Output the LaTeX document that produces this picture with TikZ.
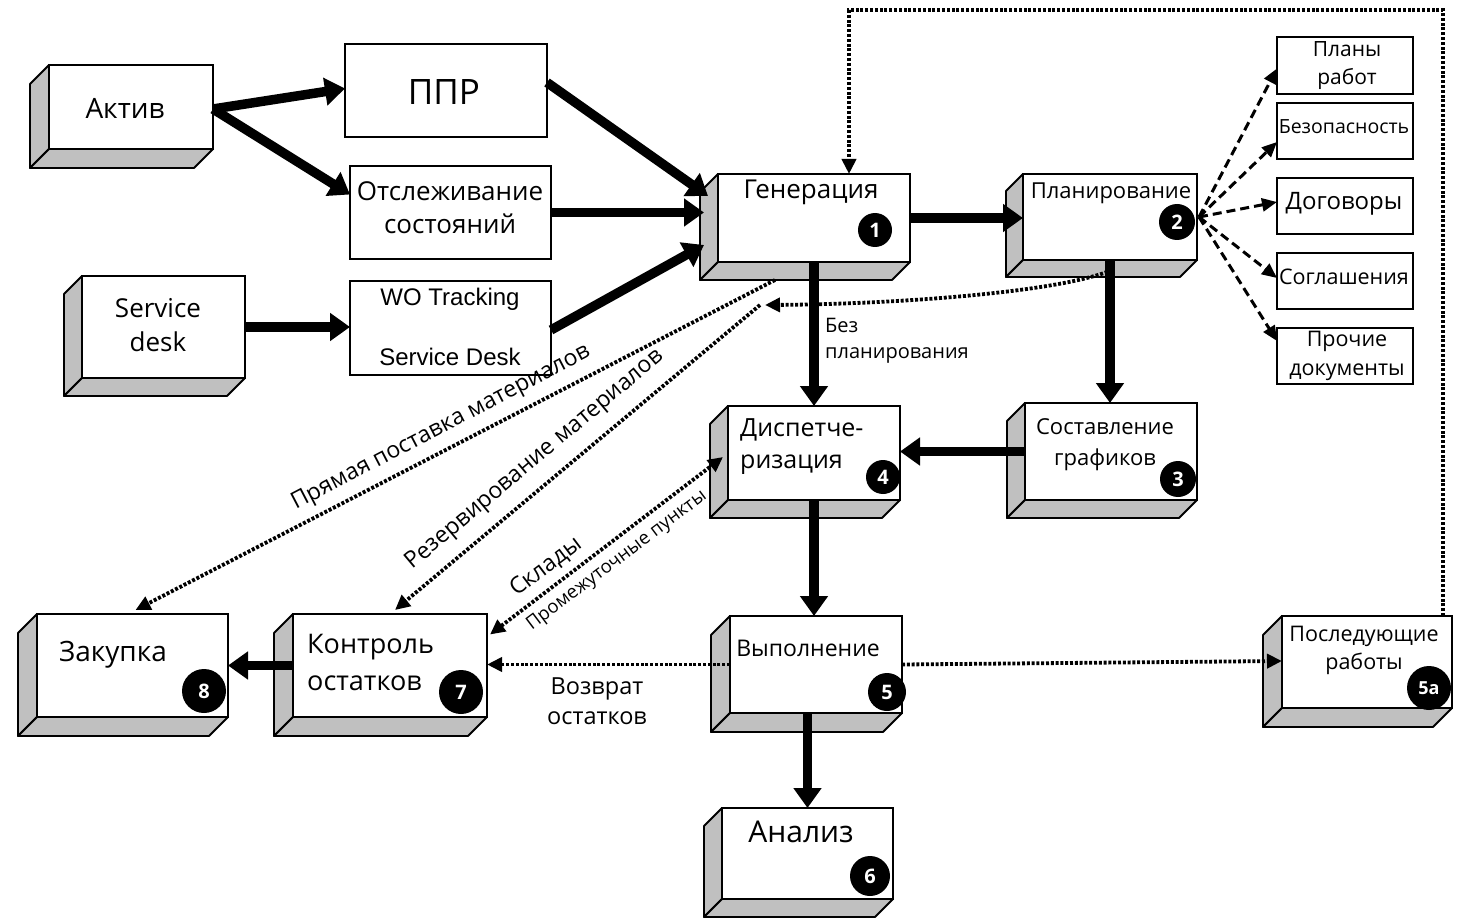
\documentclass[tikz,border=0pt]{standalone}
\usepackage{fontspec}
\setmainfont{Open Sans}
\newfontfamily\arialf{Liberation Sans}
\usetikzlibrary{arrows.meta,calc}
\definecolor{sidegray}{HTML}{C0C0C0}

\tikzset{
 front/.style={draw=black, line width=2pt, fill=white, rectangle, inner sep=0pt, outer sep=0pt},
 side/.style={draw=black, line width=1.8pt, fill=sidegray, line join=round},
 doc/.style={draw=black, line width=2pt, fill=white, rectangle, inner sep=0pt, outer sep=0pt},
 txt/.style={inner sep=0pt, align=center, text=black},
 badge/.style={circle, fill=black, text=white, inner sep=0pt, minimum size=#1, font=\fontsize{20}{20}\selectfont\bfseries},
 badge/.default=34pt,
 thickarrow/.style={line width=9.5pt, -{Triangle[length=20pt,width=27pt]}},
 dotarrow/.style={line width=3.8pt, dash pattern=on 3pt off 1.8pt, -{Triangle[length=15pt,width=14pt]}},
 dotboth/.style={line width=3.8pt, dash pattern=on 3pt off 1.8pt, {Triangle[length=15pt,width=14pt]}-{Triangle[length=15pt,width=14pt]}},
 dasharrow/.style={line width=3pt, dash pattern=on 9pt off 5pt, -{Triangle[length=15pt,width=13pt]}},
}
\newcommand\mkbox[6][front]{%
 \node[#1, minimum width={#5-#3}, minimum height={#6-#4}] (#2) at ({(#3+#5)/2},{(#4+#6)/2}) {};}
\newcommand\mkdepth[2]{%
 \filldraw[side] (#1.north west) -- ++(-#2,#2) -- ($(#1.south west)+(-#2,#2)$) -- (#1.south west) -- cycle;
 \filldraw[side] (#1.south west) -- ++(-#2,#2) -- ($(#1.south east)+(-#2,#2)$) -- (#1.south east) -- cycle;}
\newcommand\fs[2]{\fontsize{#1}{#2}\selectfont}

\begin{document}
\begin{tikzpicture}[x=1pt,y=-1pt]
\useasboundingbox (0,0) rectangle (1457,920);

% ---------- boxes ----------
\mkbox{aktiv}{49}{65}{213}{149}\mkdepth{aktiv}{19}
\mkbox[doc]{ppr}{345}{44}{547}{137}
\mkbox[doc]{otsl}{350}{166}{551}{259}
\mkbox{sdesk}{82}{276}{245}{378}\mkdepth{sdesk}{18}
\mkbox[doc]{wo}{350}{281}{551}{375}
\mkbox{gen}{718}{174}{910}{262}\mkdepth{gen}{18}
\mkbox{plan}{1023}{174}{1197}{260}\mkdepth{plan}{17}
\mkbox[doc]{planyr}{1277}{37}{1413}{94}
\mkbox[doc]{bez}{1277}{103}{1413}{159}
\mkbox[doc]{dog}{1277}{178}{1413}{234}
\mkbox[doc]{sogl}{1277}{253}{1413}{309}
\mkbox[doc]{proch}{1277}{328}{1413}{384}
\mkbox{sost}{1025}{403}{1197}{500}\mkdepth{sost}{18}
\mkbox{disp}{728}{406}{900}{500}\mkdepth{disp}{18}
\mkbox{vyp}{730}{616}{902}{713}\mkdepth{vyp}{19}
\mkbox{post}{1282}{616}{1452}{708}\mkdepth{post}{19}
\mkbox{anal}{722}{808}{893}{899}\mkdepth{anal}{18}
\mkbox{zak}{37}{614}{228}{717}\mkdepth{zak}{19}
\mkbox{kontr}{293}{614}{487}{717}\mkdepth{kontr}{19}

% ---------- texts ----------
\node[txt, font=\fs{28}{33}] (t-aktiv) at (125,108) {Актив};
\node[txt, font=\fs{35}{40}] (t-ppr) at (444,92) {ППР};
\node[txt, font=\fs{26}{33}] (t-otsl) at (450,208) {Отслеживание\\состояний};
\node[txt, font=\fs{26}{34}] (t-sdesk) at (158,325) {Service\\desk};
\node[txt, font=\arialf\fs{24}{60}] (t-wo) at (450,327) {WO Tracking\\Service Desk};
\node[txt, font=\fs{26}{30}] (t-gen) at (811,192) {Генерация};
\node[txt, font=\fs{22}{26}] (t-plan) at (1111,193) {Планирование};
\node[txt, font=\fs{21}{28}] (t-planyr) at (1347,66) {Планы\\работ};
\node[txt, font=\fs{19.5}{22}] (t-bez) at (1344,127) {Безопасность};
\node[txt, font=\fs{24}{28}] (t-dog) at (1344,204) {Договоры};
\node[txt, font=\fs{21.5}{26}] (t-sogl) at (1344,277) {Соглашения};
\node[txt, font=\fs{21.5}{29}] (t-proch) at (1347,356) {Прочие\\документы};
\node[txt, font=\fs{22}{31}] (t-sost) at (1105,445) {Составление\\графиков};
\node[txt, font=\fs{25}{32}, align=left, anchor=west] (t-disp) at (740,447) {Диспетче-\\ризация};
\node[txt, font=\fs{23}{27}] (t-vyp) at (808,648) {Выполнение};
\node[txt, font=\fs{21.5}{28}] (t-post) at (1364,650) {Последующие\\работы};
\node[txt, font=\fs{30}{34}] (t-anal) at (801,832) {Анализ};
\node[txt, font=\fs{28}{32}] (t-zak) at (113,655) {Закупка};
\node[txt, font=\fs{27}{37}, align=left, anchor=west] (t-kontr) at (307,662) {Контроль\\остатков};
\node[txt, font=\fs{20}{26}, align=left, anchor=west] (t-bezpl) at (825,341) {Без\\планирования};
\node[txt, font=\fs{23.5}{30}] (t-vozv) at (597,701) {Возврат\\остатков};

% ---------- badges ----------
\node[badge=34pt] (b1) at (875,230) {1};
\node[badge=36pt] (b2) at (1177,222) {2};
\node[badge=36pt] (b3) at (1178,479) {3};
\node[badge=34pt] (b4) at (883,477) {4};
\node[badge=38pt] (b5) at (887,692) {5};
\node[badge=44pt, font=\fs{18}{18}\bfseries] (b5a) at (1429,688) {5a};
\node[badge=40pt] (b6) at (870,876) {6};
\node[badge=44pt] (b7) at (461,692) {7};
\node[badge=44pt] (b8) at (204,691) {8};

% ---------- thick arrows ----------
\draw[thickarrow] ($(aktiv.east)+(0,2)$) -- ($(ppr.west)+(0,-2)$);
\draw[thickarrow] ($(aktiv.east)+(0,2)$) -- ($(otsl.west)+(0,-18)$);
\draw[thickarrow] ($(ppr.east)+(0,-8)$) -- ($(gen.west)+(-10,-22)$);
\draw[thickarrow] (otsl.east) -- ($(otsl.east -| gen.west)+(-14,0)$);
\draw[thickarrow] ($(wo.east)+(0,2)$) -- ($(gen.west)+(-14,27)$);
\draw[thickarrow] (sdesk.east) -- (sdesk.east -| wo.west);
\draw[thickarrow] (gen.east) -- (gen.east -| plan.west);
\draw[thickarrow] (gen.south) -- (gen.south |- disp.north);
\draw[thickarrow] (plan.south) -- (plan.south |- sost.north);
\draw[thickarrow] (sost.west) -- (sost.west -| disp.east);
\draw[thickarrow] (disp.south) -- (disp.south |- vyp.north);
\draw[thickarrow] (anal.north |- vyp.south) -- (anal.north);
\draw[thickarrow] (kontr.west) -- (kontr.west -| zak.east);

% ---------- dotted connectors ----------
\coordinate (c1) at (1443,10);
\coordinate (c2) at (849,10);
\coordinate (rez) at (765,305);
\draw[dotarrow, line width=4pt] (post.north -| c1) -- (c1) -- (c2) -- (c2 |- gen.north);
\draw[dotarrow] (vyp.west) -- (vyp.west -| kontr.east);
\draw[dotarrow] (vyp.east) -- ($(post.west)+(0,-1)$);
\draw[dotarrow] ($(plan.south)+(2,10)$) .. controls (1060,292) and (900,304) .. (rez);
\draw[dotarrow] ($(rez)+(-5,0)$) -- ($(kontr.north)+(5,-4)$);
\draw[dotarrow] ($(gen.south)+(-39,18)$) -- ($(zak.north)+(3,-4)$);
\draw[dotboth] ($(kontr.east)+(3,-31)$) -- ($(disp.west)+(-5,4)$);

% ---------- dashed document arrows ----------
\draw[dasharrow] ($(plan.east)+(2,0)$) -- ($(planyr.west)+(0,3)$);
\draw[dasharrow] ($(plan.east)+(2,0)$) -- ($(bez.west)+(0,11)$);
\draw[dasharrow] ($(plan.east)+(2,0)$) -- ($(dog.west)+(0,-4)$);
\draw[dasharrow] ($(plan.east)+(2,0)$) -- ($(sogl.west)+(0,-3)$);
\draw[dasharrow] ($(plan.east)+(2,0)$) -- ($(proch.west)+(0,-15)$);

% ---------- line labels ----------
\node[txt, font=\fs{23}{26}, rotate=27.5] (l-pryam) at (441,428) {Прямая поставка материалов};
\node[txt, font=\fs{23}{26}, rotate=40] (l-rez) at (535,460) {Резервирование материалов};
\node[txt, font=\fs{23}{26}, rotate=37] (l-skl) at (546,567) {Склады};
\node[txt, font=\fs{18.5}{20}, rotate=37] (l-prom) at (617,561) {Промежуточные пункты};
\end{tikzpicture}
\end{document}
